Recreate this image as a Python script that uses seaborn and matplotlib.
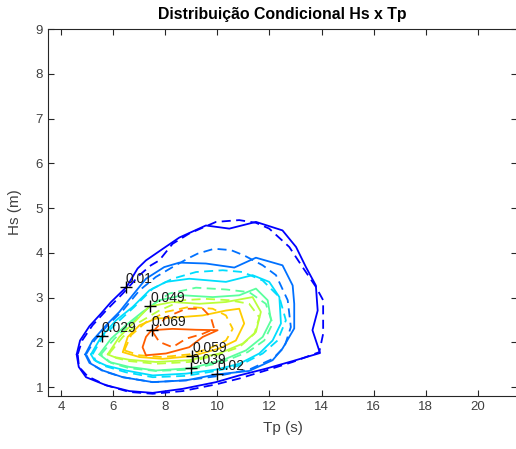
import matplotlib
matplotlib.use("Agg")
import matplotlib.pyplot as plt
import numpy as np
import pandas as pd
import seaborn as sns

# ---------------- data ----------------
levels = [0.01, 0.02, 0.029, 0.039, 0.049, 0.059, 0.069]

# model contours (solid lines): Tp (s) and Hs (m) vertices per level
m1_tp = [4.60, 4.73, 5.09, 5.53, 5.92, 6.52, 6.94, 7.26, 7.96, 8.54, 9.56, 10.46, 11.48, 12.50, 13.02, 13.40, 13.78, 13.85, 13.65, 13.94, 12.89, 11.86, 10.84, 9.95, 8.67, 7.52, 6.62, 5.73, 4.96, 4.68]
m1_hs = [1.73, 2.04, 2.36, 2.64, 2.90, 3.24, 3.65, 3.83, 4.11, 4.34, 4.61, 4.54, 4.69, 4.50, 4.13, 3.68, 3.27, 2.71, 2.27, 1.76, 1.58, 1.41, 1.26, 1.11, 0.96, 0.87, 0.91, 1.04, 1.22, 1.45]
m2_tp = [4.93, 5.21, 5.73, 6.24, 6.69, 7.26, 7.96, 8.54, 9.56, 10.65, 11.48, 12.50, 12.89, 12.95, 12.95, 12.50, 12.12, 11.22, 9.95, 8.80, 7.52, 6.37, 5.60, 5.09]
m2_hs = [1.73, 2.04, 2.38, 2.68, 3.01, 3.42, 3.68, 3.78, 3.76, 3.67, 3.89, 3.72, 3.27, 2.86, 2.31, 1.86, 1.60, 1.36, 1.28, 1.15, 1.11, 1.22, 1.37, 1.54]
m3_tp = [5.15, 5.55, 6.11, 6.75, 7.39, 8.03, 8.92, 10.33, 11.35, 11.99, 12.38, 12.44, 12.12, 11.61, 10.84, 9.95, 8.80, 7.52, 6.49, 5.73, 5.28]
m3_hs = [1.73, 2.13, 2.49, 2.79, 3.16, 3.35, 3.42, 3.35, 3.50, 3.35, 3.01, 2.42, 2.04, 1.75, 1.52, 1.39, 1.30, 1.26, 1.37, 1.48, 1.60]
m4_tp = [5.47, 5.92, 6.49, 7.13, 7.77, 8.67, 9.82, 10.84, 11.48, 11.93, 12.06, 11.74, 11.10, 10.20, 8.96, 7.64, 6.62, 5.85]
m4_hs = [1.73, 2.08, 2.38, 2.68, 2.94, 3.05, 3.01, 3.05, 3.20, 2.94, 2.49, 2.12, 1.82, 1.60, 1.42, 1.37, 1.45, 1.56]
m5_tp = [5.79, 6.24, 6.88, 7.39, 8.28, 9.31, 10.33, 11.35, 11.67, 11.48, 10.97, 10.07, 8.92, 7.64, 6.62, 6.05]
m5_hs = [1.73, 2.12, 2.49, 2.80, 2.90, 2.86, 2.90, 3.01, 2.68, 2.23, 1.97, 1.75, 1.60, 1.56, 1.61, 1.67]
m6_tp = [6.37, 6.56, 7.01, 7.64, 8.54, 9.44, 10.33, 10.84, 11.03, 10.71, 10.07, 9.00, 7.90, 7.01]
m6_hs = [1.78, 2.12, 2.38, 2.53, 2.56, 2.60, 2.71, 2.75, 2.42, 2.04, 1.86, 1.69, 1.63, 1.67]
m7_tp = [7.47, 8.28, 9.18, 10.01, 9.44, 8.92, 8.03, 7.26, 7.13, 7.26]
m7_hs = [2.27, 2.30, 2.28, 2.27, 2.12, 1.89, 1.75, 1.71, 1.89, 2.12]

# empirical contours (dashed lines)
e1_tp = [4.64, 4.81, 5.21, 5.73, 6.37, 7.01, 7.45, 7.77, 8.28, 8.92, 9.95, 10.84, 11.48, 11.99, 12.76, 13.27, 13.78, 14.06, 14.06, 13.91, 12.89, 11.86, 10.84, 9.95, 8.67, 7.52, 6.62, 5.73, 5.02, 4.69]
e1_hs = [1.73, 2.04, 2.38, 2.71, 3.09, 3.50, 3.72, 3.83, 4.20, 4.43, 4.69, 4.73, 4.67, 4.54, 4.13, 3.68, 3.24, 2.94, 2.19, 1.78, 1.56, 1.37, 1.19, 1.06, 0.91, 0.85, 0.89, 1.04, 1.24, 1.45]
e2_tp = [4.96, 5.28, 5.79, 6.37, 7.01, 7.64, 8.28, 8.86, 9.24, 9.88, 10.52, 11.03, 11.74, 12.25, 12.70, 12.82, 12.57, 12.12, 11.22, 9.95, 8.80, 7.52, 6.37, 5.60, 5.15]
e2_hs = [1.73, 2.04, 2.38, 2.71, 3.16, 3.46, 3.68, 3.87, 3.98, 4.09, 4.06, 3.94, 3.72, 3.50, 2.94, 2.34, 1.89, 1.63, 1.39, 1.24, 1.15, 1.11, 1.22, 1.36, 1.52]
e3_tp = [5.21, 5.60, 6.17, 6.81, 7.52, 8.28, 9.18, 10.20, 10.97, 11.74, 12.38, 12.63, 12.31, 11.74, 10.84, 9.95, 8.80, 7.52, 6.49, 5.73, 5.34]
e3_hs = [1.73, 2.12, 2.45, 2.79, 3.20, 3.42, 3.57, 3.61, 3.57, 3.38, 3.01, 2.49, 2.04, 1.75, 1.48, 1.36, 1.25, 1.22, 1.33, 1.46, 1.58]
e4_tp = [5.53, 6.05, 6.69, 7.39, 8.16, 9.18, 10.33, 11.22, 11.86, 12.12, 11.80, 11.16, 10.20, 8.96, 7.64, 6.62, 5.92]
e4_hs = [1.73, 2.08, 2.42, 2.79, 3.09, 3.22, 3.18, 3.12, 2.86, 2.42, 2.04, 1.78, 1.56, 1.39, 1.36, 1.42, 1.54]
e5_tp = [5.85, 6.37, 7.01, 7.77, 8.67, 9.56, 10.46, 11.22, 11.61, 11.42, 10.84, 9.95, 8.92, 7.64, 6.62, 6.11]
e5_hs = [1.75, 2.12, 2.45, 2.71, 2.94, 2.97, 2.94, 2.86, 2.56, 2.19, 1.89, 1.71, 1.56, 1.52, 1.58, 1.65]
e6_tp = [6.43, 6.69, 7.26, 8.03, 8.92, 9.82, 10.33, 10.59, 10.33, 9.69, 8.92, 7.90, 7.01]
e6_hs = [1.82, 2.16, 2.45, 2.68, 2.79, 2.75, 2.60, 2.30, 2.04, 1.86, 1.73, 1.67, 1.71]
e7_tp = [7.52, 8.03, 8.80, 9.44, 9.75, 9.88, 9.44, 8.80, 8.28, 7.77]
e7_hs = [2.23, 2.56, 2.75, 2.75, 2.56, 2.30, 2.19, 2.08, 1.89, 2.01]

# contour labels
label_levels = [0.01, 0.049, 0.029, 0.069, 0.059, 0.039, 0.02]
label_tp = [6.49, 7.42, 5.57, 7.49, 9.03, 8.99, 10.00]
label_hs = [3.23, 2.81, 2.14, 2.27, 1.69, 1.42, 1.29]

x_ticks = [4, 6, 8, 10, 12, 14, 16, 18, 20]
y_ticks = [1, 2, 3, 4, 5, 6, 7, 8, 9]

# ---------------- build long table ----------------
model_tp = [m1_tp, m2_tp, m3_tp, m4_tp, m5_tp, m6_tp, m7_tp]
model_hs = [m1_hs, m2_hs, m3_hs, m4_hs, m5_hs, m6_hs, m7_hs]
emp_tp = [e1_tp, e2_tp, e3_tp, e4_tp, e5_tp, e6_tp, e7_tp]
emp_hs = [e1_hs, e2_hs, e3_hs, e4_hs, e5_hs, e6_hs, e7_hs]

rows = []
for kind, tps, hss in (("model", model_tp, model_hs), ("empirical", emp_tp, emp_hs)):
    for lv, tp, hs in zip(levels, tps, hss):
        tp_c = list(tp) + [tp[0]]
        hs_c = list(hs) + [hs[0]]
        for i, (a, b) in enumerate(zip(tp_c, hs_c)):
            rows.append({"Tp": a, "Hs": b, "level": lv, "kind": kind,
                         "curve": f"{kind}_{lv}", "order": i})
df = pd.DataFrame(rows)

cmap = matplotlib.colormaps["jet"]
palette = {lv: cmap(lv / 0.085) for lv in levels}

# ---------------- plot ----------------
sns.set_theme(style="ticks")
plt.rcParams["font.family"] = ["Liberation Sans", "DejaVu Sans"]

fig = plt.figure(figsize=(5.16, 4.49), dpi=100)
ax = fig.add_axes([48 / 516, 1 - 396 / 449, 469 / 516, 367 / 449])

sns.lineplot(data=df, x="Tp", y="Hs", hue="level", style="kind", units="curve",
             estimator=None, sort=False, palette=palette,
             dashes={"model": "", "empirical": (5, 3)},
             linewidth=1.3, legend=False, ax=ax)

for lv, tp, hs in zip(label_levels, label_tp, label_hs):
    ax.plot([tp], [hs], marker="+", color="black", markersize=8, mew=1.0, ls="none")
    ax.annotate(f"{lv:g}", (tp, hs), xytext=(0, 1), textcoords="offset points",
                ha="left", va="bottom", fontsize=10, color="#1a1a1a")

ax.set_xlim(3.5, 21.5)
ax.set_ylim(0.8, 9)
ax.set_xticks(x_ticks)
ax.set_yticks(y_ticks)
ax.tick_params(direction="in", top=True, right=True, length=4, width=0.8,
               colors="#262626", labelsize=9.5, labelcolor="#404040")
for s in ax.spines.values():
    s.set_color("#262626")
    s.set_linewidth(0.8)

ax.set_xlabel("Tp (s)", fontsize=11, color="#404040", labelpad=6)
ax.set_ylabel("Hs (m)", fontsize=11, color="#404040", labelpad=10)
ax.set_title("Distribuição Condicional Hs x Tp", fontsize=11.4, fontweight="bold",
             color="black", pad=7)

fig.savefig("out.png", dpi=100)
